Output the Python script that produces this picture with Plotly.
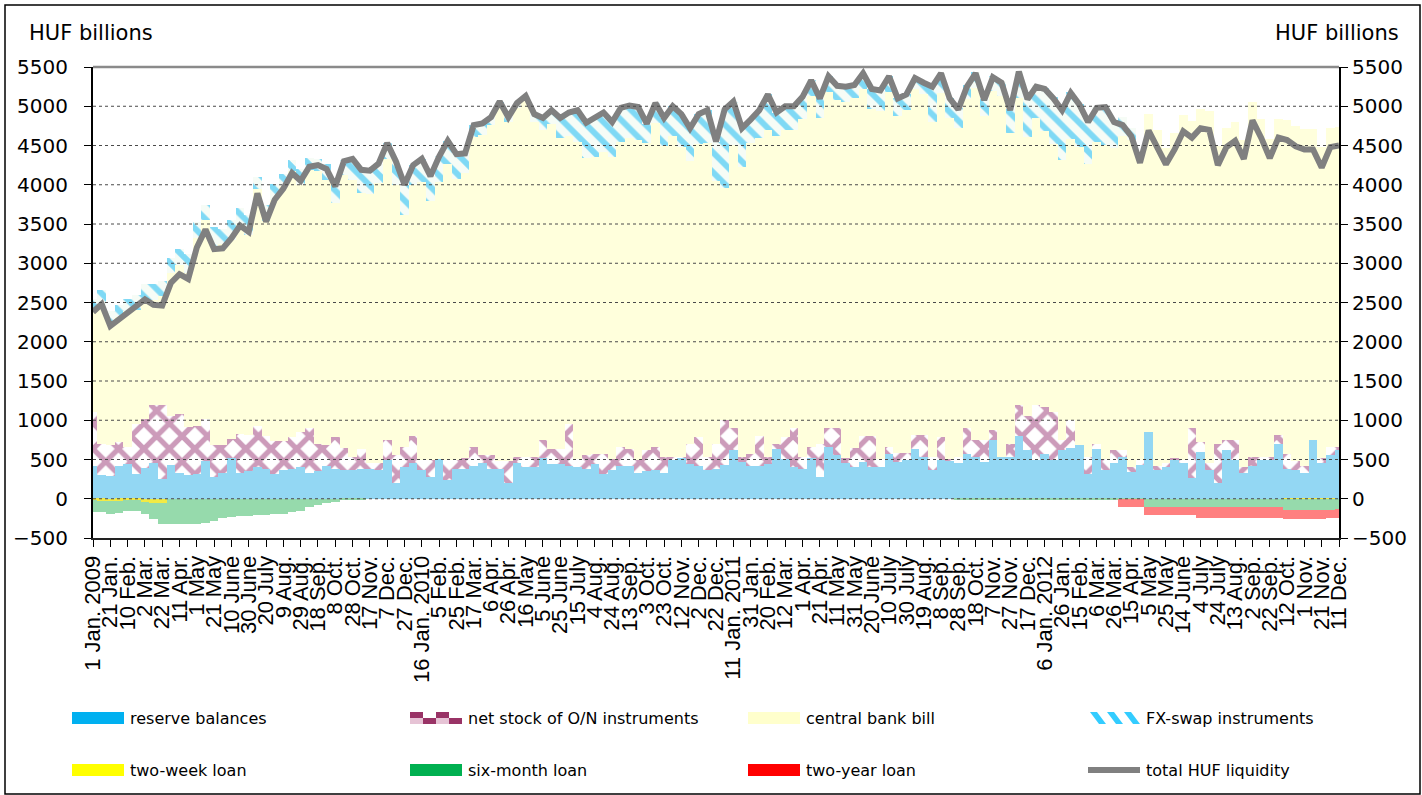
import pandas as pd
import plotly.graph_objects as go

# ---------------------------------------------------------------------------
# Data (HUF billions), one observation every 10 days from 1 Jan 2009
# ---------------------------------------------------------------------------
sample_dates = pd.date_range("2009-01-01", periods=145, freq="10D")

total_liquidity = [
    2380, 2480, 2200, 2280, 2380, 2450, 2540, 2470, 2460, 2750,
    2860, 2800, 3200, 3430, 3180, 3190, 3320, 3480, 3400, 3890,
    3530, 3810, 3950, 4150, 4050, 4230, 4250, 4200, 3980, 4300,
    4330, 4190, 4180, 4270, 4530, 4300, 4000, 4250, 4330, 4110,
    4360, 4560, 4390, 4400, 4760, 4780, 4860, 5060, 4860, 5040,
    5130, 4900, 4850, 4950, 4850, 4920, 4950, 4790, 4850, 4920,
    4800, 4980, 5010, 4990, 4780, 5040, 4850, 5000, 4900, 4720,
    4900, 4950, 4550, 4960, 5060, 4720, 4830, 4950, 5150, 4920,
    5000, 5000, 5120, 5330, 5100, 5380, 5260, 5250, 5270, 5420,
    5220, 5200, 5380, 5100, 5150, 5360, 5300, 5250, 5420, 5100,
    4960, 5250, 5420, 5080, 5370, 5300, 4950, 5440, 5090, 5250,
    5220, 5100, 4950, 5170, 5020, 4800, 4980, 4990, 4800, 4760,
    4620, 4280, 4690, 4490, 4260, 4450, 4680, 4600, 4720, 4700,
    4250, 4480, 4560, 4330, 4820, 4600, 4340, 4600, 4570, 4490,
    4450, 4450, 4220, 4480, 4500,
]

reserve_balances = [
    420, 300, 290, 420, 440, 320, 390, 460, 250, 430,
    330, 300, 320, 480, 280, 330, 520, 330, 350, 400,
    380, 320, 360, 380, 400, 330, 350, 420, 380, 360,
    360, 385, 385, 360, 500, 200, 405, 450, 360, 280,
    510, 240, 385, 385, 420, 450, 380, 380, 200, 450,
    400, 400, 520, 440, 440, 420, 400, 380, 440, 320,
    360, 420, 420, 330, 350, 360, 330, 500, 520, 440,
    420, 360, 380, 425, 620, 470, 420, 420, 440, 640,
    510, 400, 380, 520, 280, 660, 560, 460, 400, 470,
    400, 400, 575, 470, 500, 640, 535, 360, 490, 490,
    450, 575, 535, 470, 745, 535, 535, 800, 620, 490,
    575, 490, 620, 650, 680, 320, 640, 360, 450, 535,
    340, 425, 850, 360, 405, 500, 450, 260, 600, 360,
    200, 620, 500, 330, 420, 490, 490, 700, 385, 360,
    330, 745, 450, 560, 620,
]

on_net_stock = [
    680, 400, 400, 300, 220, 630, 630, 740, 950, 620,
    750, 620, 610, 540, 400, 350, 240, 500, 460, 530,
    420, 420, 370, 410, 450, 570, 350, 270, 410, 290,
    175, 255, 65, 90, 245, 355, 255, 350, 130, 210,
    0, 250, 105, 135, 240, 105, 175, 100, 280, 85,
    135, 135, 225, 200, 200, 530, 110, 175, 130, 255,
    150, 240, 220, 160, 270, 300, 205, 35, 15, 260,
    370, 175, 320, 575, 280, 65, 155, 380, 95, 60,
    280, 500, 155, 140, 420, 240, 340, 60, 250, 330,
    400, 110, 85, 110, 80, 170, 275, 175, 300, 20,
    85, 320, 210, 275, 130, 0, 165, 400, 430, 710,
    595, 610, 125, 350, 0, 215, 60, 150, 170, 85,
    60, 75, 0, 60, 45, 20, 50, 640, 120, 90,
    500, 125, 245, 70, 115, 45, 45, 110, 190, 120,
    90, 0, 70, 100, 40,
]

fx_swap = [
    150, 200, 150, 150, 150, 200, 200, 200, 200, 200,
    200, 250, 200, 200, 250, 200, 250, 200, 250, 150,
    200, 200, 150, 150, 200, 150, 150, 200, 250, 200,
    280, 300, 300, 250, 200, 300, 380, 250, 300, 320,
    330, 300, 320, 250, 150, 150, 100, 80, 60, 60,
    50, 100, 150, 180, 250, 300, 400, 450, 500, 500,
    450, 430, 420, 420, 250, 250, 360, 380, 420, 420,
    380, 420, 500, 1000, 550, 500, 300, 350, 450, 300,
    300, 300, 280, 200, 250, 200, 180, 200, 170, 200,
    250, 260, 200, 230, 200, 140, 150, 450, 250, 250,
    250, 170, 200, 220, 190, 190, 300, 350, 500, 420,
    550, 600, 650, 600, 550, 550, 450, 500, 350, 250,
    150, 50, 0, 0, 0, 0, 0, 0, 0, 0,
    0, 0, 0, 0, 0, 0, 0, 0, 0, 0,
    0, 0, 0, 0, 0,
]

two_week_loan = (
    [-20, -25, -30, -25, -20, -20, -45, -60, -60]
    + [0] * 129
    + [-8, -8, -8, -8, -8, -8]
    + [0]
)

six_month_loan = (
    [-150, -150, -160, -160, -140, -130, -155, -200, -260, -320,
     -320, -320, -320, -315, -280, -250, -230, -220, -215, -210,
     -210, -200, -190, -170, -150, -110, -80, -60, -35, -20,
     -10, -5]
    + [0] * 68
    + [-15] * 19
    + [-5] * 3
    + [-100] * 16
    + [-130] * 7
)

two_year_loan = (
    [0] * 119
    + [-100] * 3
    + [-110] * 6
    + [-140] * 10
    + [-120] * 5
    + [-110] * 2
)

# Central bank bill holdings: balancing item of the liquidity identity
# total = reserves + O/N + bills + FX-swaps + (loans, negative)
cb_bill = [
    t - r - o - f - a - b - c
    for t, r, o, f, a, b, c in zip(total_liquidity, reserve_balances, on_net_stock,
                                   fx_swap, two_week_loan, six_month_loan, two_year_loan)
]

tick_dates = pd.date_range("2009-01-01", periods=73, freq="20D")
tick_labels = [
    "1 Jan. 2009", "21 Jan.", "10 Feb.", "2 Mar.", "22 Mar.", "11 Apr.", "1 May",
    "21 May", "10 June", "30 June", "20 July", "9 Aug.", "29 Aug.", "18 Sep.",
    "8 Oct.", "28 Oct.", "17 Nov.", "7 Dec.", "27 Dec.",
    "16 Jan. 2010", "5 Feb.", "25 Feb.", "17 Mar.", "6 Apr.", "26 Apr.", "16 May",
    "5 June", "25 June", "15 July", "4 Aug.", "24 Aug.", "13 Sep.", "3 Oct.",
    "23 Oct.", "12 Nov.", "2 Dec.", "22 Dec.",
    "11 Jan. 2011", "31 Jan.", "20 Feb.", "12 Mar.", "1 Apr.", "21 Apr.", "11 May",
    "31 May", "20 June", "10 July", "30 July", "19 Aug.", "8 Sep.", "28 Sep.",
    "18 Oct.", "7 Nov.", "27 Nov.", "17 Dec.",
    "6 Jan. 2012", "26 Jan.", "15 Feb.", "6 Mar.", "26 Mar.", "15 Apr.", "5 May",
    "25 May", "14 June", "4 July", "24 July", "13 Aug.", "2 Sep.", "22 Sep.",
    "12 Oct.", "1 Nov.", "21 Nov.", "11 Dec.",
]

series_names = [
    "reserve balances", "net stock of O/N instruments", "central bank bill",
    "FX-swap instruments", "two-week loan", "six-month loan", "two-year loan",
    "total HUF liquidity",
]

for s in (total_liquidity, reserve_balances, on_net_stock, fx_swap,
          two_week_loan, six_month_loan, two_year_loan):
    assert len(s) == len(sample_dates)

# ---------------------------------------------------------------------------
# Geometry helpers (pixel -> paper coordinates)
# ---------------------------------------------------------------------------
W, H = 1422, 795
L, R, T, B = 93, 83, 67, 257
PW, PH = W - L - R, H - T - B


def px(x):
    return (x - L) / PW


def py(y):
    return (H - B - y) / PH


FONT = "DejaVu Sans"
BAR_WIDTH = 10 * 86400000  # ten days in ms

fig = go.Figure()


def add_bar(values, name, marker):
    fig.add_trace(go.Bar(
        x=sample_dates, y=values, name=name, width=BAR_WIDTH,
        marker=marker, showlegend=False, hoverinfo="x+y+name",
    ))


add_bar(reserve_balances, series_names[0],
        dict(color="#93D7F3", line=dict(width=0)))
add_bar(on_net_stock, series_names[1],
        dict(color="#FFFFFF", line=dict(width=0),
             pattern=dict(shape="x", fgcolor="#CC9BBA", bgcolor="#FFFFFF",
                          size=18, solidity=0.5, fillmode="replace")))
add_bar(cb_bill, series_names[2],
        dict(color="#FFFFDC", line=dict(width=0)))
add_bar(fx_swap, series_names[3],
        dict(color="#FFFFFF", line=dict(width=0),
             pattern=dict(shape="\\", fgcolor="#7FD9F5", bgcolor="#F6FCF6",
                          size=14, solidity=0.42, fillmode="replace")))
add_bar(two_week_loan, series_names[4],
        dict(color="#F2EA45", line=dict(width=0)))
add_bar(six_month_loan, series_names[5],
        dict(color="#96DAAC", line=dict(width=0)))
add_bar(two_year_loan, series_names[6],
        dict(color="#FF8080", line=dict(width=0)))

fig.add_trace(go.Scatter(
    x=sample_dates, y=total_liquidity, name=series_names[7], mode="lines",
    line=dict(color="#808080", width=6), yaxis="y2", showlegend=False,
))

axis_common = dict(
    range=[-500, 5500], tick0=0, dtick=500, ticks="outside", ticklen=7,
    tickcolor="#000000", tickwidth=1, showline=True, linecolor="#000000",
    linewidth=2, showgrid=False, zeroline=False,
    tickfont=dict(family=FONT, size=20, color="#000000"),
)

fig.update_layout(
    width=W, height=H, autosize=False,
    margin=dict(l=L, r=R, t=T, b=B, pad=0),
    paper_bgcolor="#FFFFFF", plot_bgcolor="#FFFFFF",
    barmode="relative", bargap=0, showlegend=False,
    xaxis=dict(
        type="date", range=["2009-01-01", "2012-12-11"],
        tickmode="array", tickvals=list(tick_dates), ticktext=tick_labels,
        tickangle=-90, ticks="outside", ticklen=7, tickcolor="#000000",
        showline=True, linecolor="#222222", linewidth=2, showgrid=False,
        zeroline=False,
        tickfont=dict(family="Liberation Sans, Arial", size=22, color="#000000"),
    ),
    yaxis=dict(**axis_common, side="left", ticklabelstandoff=12),
    yaxis2=dict(**axis_common, side="right", overlaying="y"),
)

shapes = []
# dotted horizontal gridlines drawn over the bars
for level in range(0, 5500, 500):
    shapes.append(dict(type="line", xref="paper", yref="y", x0=0, x1=1,
                       y0=level, y1=level, layer="above",
                       line=dict(color="#4A4A4A", width=1, dash="dot")))
# top border of the plot area
shapes.append(dict(type="line", xref="paper", yref="paper", x0=0, x1=1,
                   y0=1, y1=1, line=dict(color="#8A8A8A", width=2.5)))
# outer frame
shapes.append(dict(type="rect", xref="paper", yref="paper",
                   x0=px(5), x1=px(1420), y0=py(794), y1=py(5),
                   line=dict(color="#000000", width=1.5)))

# ---------------------------------------------------------------------------
# Legend (two rows of four entries)
# ---------------------------------------------------------------------------
col_x = [72, 410, 748, 1088]
row_y = [718, 770]
SW, SH = 52, 12
annotations = []


def rect(x0, y0, x1, y1, color):
    shapes.append(dict(type="rect", xref="paper", yref="paper",
                       x0=px(x0), x1=px(x1), y0=py(y1), y1=py(y0),
                       fillcolor=color, line=dict(width=0)))


def legend_symbol(kind, x0, yc):
    top, bot = yc - SH / 2, yc + SH / 2
    if kind == "checker":
        cw = SW / 4
        for i in range(4):
            rect(x0 + i * cw, top, x0 + (i + 1) * cw, yc,
                 "#993366" if i % 2 == 0 else "#FFFFFF")
            rect(x0 + i * cw, yc, x0 + (i + 1) * cw, bot,
                 "#E6C3D5" if i % 2 == 0 else "#993366")
    elif kind == "hatch":
        rect(x0, top, x0 + SW, bot, "#FFFFFF")
        for s in (0, 17, 34):
            xs = x0 + s + 2
            path = "M {},{} L {},{} L {},{} L {},{} Z".format(
                px(xs), py(top), px(xs + 7), py(top),
                px(xs + 16), py(bot), px(xs + 9), py(bot))
            shapes.append(dict(type="path", xref="paper", yref="paper",
                               path=path, fillcolor="#33CCFF",
                               line=dict(width=0)))
    elif kind == "line":
        shapes.append(dict(type="line", xref="paper", yref="paper",
                           x0=px(x0), x1=px(x0 + SW), y0=py(yc), y1=py(yc),
                           line=dict(color="#808080", width=6)))


legend_spec = [
    (series_names[0], 0, 0, "solid", "#00B0F0"),
    (series_names[1], 1, 0, "checker", None),
    (series_names[2], 2, 0, "solid", "#FFFFCC"),
    (series_names[3], 3, 0, "hatch", None),
    (series_names[4], 0, 1, "solid", "#FFFF00"),
    (series_names[5], 1, 1, "solid", "#00B050"),
    (series_names[6], 2, 1, "solid", "#FF0000"),
    (series_names[7], 3, 1, "line", None),
]

for label, c, r, kind, color in legend_spec:
    x0, yc = col_x[c], row_y[r]
    if kind == "solid":
        rect(x0, yc - SH / 2, x0 + SW, yc + SH / 2, color)
    else:
        legend_symbol(kind, x0, yc)
    annotations.append(dict(
        xref="paper", yref="paper", x=px(x0 + SW + 4), y=py(yc),
        xanchor="left", yanchor="middle", showarrow=False, text=label,
        font=dict(family=FONT, size=16, color="#000000"),
    ))

# axis unit captions
annotations.append(dict(xref="paper", yref="paper", x=px(27), y=py(33),
                        xanchor="left", yanchor="middle", showarrow=False,
                        text="HUF billions",
                        font=dict(family=FONT, size=21, color="#000000")))
annotations.append(dict(xref="paper", yref="paper", x=px(1401), y=py(33),
                        xanchor="right", yanchor="middle", showarrow=False,
                        text="HUF billions",
                        font=dict(family=FONT, size=21, color="#000000")))

fig.update_layout(shapes=shapes, annotations=annotations)

fig.write_html("out.html")
